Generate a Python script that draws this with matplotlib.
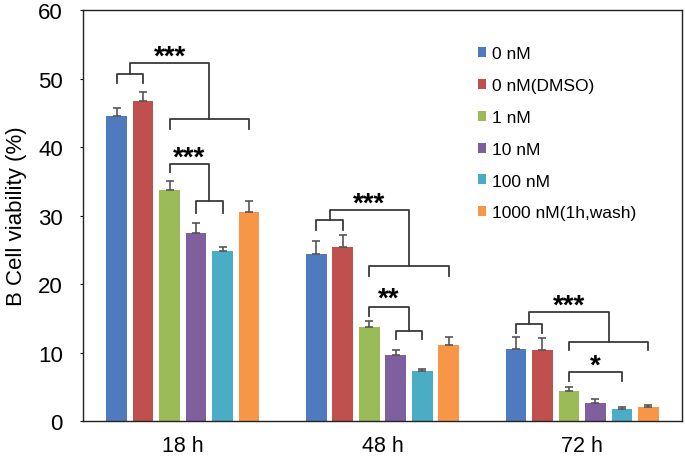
import matplotlib.pyplot as plt
import numpy as np

plt.rcParams['font.family'] = ['Liberation Sans', 'DejaVu Sans']

# data
times = ['18 h', '48 h', '72 h']
doses = ['0 nM', '0 nM(DMSO)', '1 nM', '10 nM', '100 nM', '1000 nM(1h,wash)']
means = {
    '0 nM':             [44.5, 24.4, 10.5],
    '0 nM(DMSO)':       [46.7, 25.4, 10.3],
    '1 nM':             [33.7, 13.7, 4.4],
    '10 nM':            [27.5, 9.6, 2.6],
    '100 nM':           [24.8, 7.3, 1.75],
    '1000 nM(1h,wash)': [30.5, 11.05, 2.1],
}
errs = {
    '0 nM':             [1.2, 1.9, 1.8],
    '0 nM(DMSO)':       [1.3, 1.8, 1.8],
    '1 nM':             [1.4, 0.9, 0.5],
    '10 nM':            [1.4, 0.8, 0.6],
    '100 nM':           [0.6, 0.3, 0.35],
    '1000 nM(1h,wash)': [1.6, 1.25, 0.3],
}
colors = ['#4F7BBE', '#C0504D', '#9BBB59', '#7F5F9E', '#4BACC6', '#F79646']

fig = plt.figure(figsize=(6.85, 4.6), dpi=100)
ax = fig.add_axes([0.1212, 0.0826, 0.8744, 0.8934])

x = np.arange(len(times))
pitch = 0.1327
width = 0.104
for i, d in enumerate(doses):
    pos = x + (i - 2.5) * pitch
    ax.bar(pos, means[d], width, color=colors[i], label=d, zorder=2)
    ax.errorbar(pos, means[d], yerr=[np.zeros(3), errs[d]], fmt='none',
                ecolor='#555555', elinewidth=1.2, capsize=3.2, capthick=1.2, zorder=3)

def cx(g, i):
    return g + (i - 2.5) * pitch

lc = '#3a3a3a'
lw = 1.3
star_fs = 20

def nested(g, y_small, y_leg_s, y_top, y_big, y_leg_b, label, y_txt):
    # small bracket over 0 nM / DMSO
    a, b = cx(g, 0), cx(g, 1)
    ax.plot([a, a, b, b], [y_leg_s, y_small, y_small, y_leg_s], color=lc, lw=lw)
    m1 = (a + b) / 2
    # bracket over the treated bars
    c, d = cx(g, 2), cx(g, 5)
    ax.plot([c, c, d, d], [y_leg_b, y_big, y_big, y_leg_b], color=lc, lw=lw)
    m2 = (c + d) / 2
    ax.plot([m1, m1, m2, m2], [y_small, y_top, y_top, y_big], color=lc, lw=lw)
    ax.text((m1 + m2) / 2, y_txt, label, ha='center', va='center', fontsize=star_fs,
            fontweight='bold')

def single_vs_pair(g, y_leg_a, y_top, y_pair, y_leg_p, label, y_txt):
    a = cx(g, 2)
    b, c = cx(g, 3), cx(g, 4)
    ax.plot([b, b, c, c], [y_leg_p, y_pair, y_pair, y_leg_p], color=lc, lw=lw)
    m = (b + c) / 2
    ax.plot([a, a, m, m], [y_leg_a, y_top, y_top, y_pair], color=lc, lw=lw)
    ax.text((a + m) / 2, y_txt, label, ha='center', va='center', fontsize=star_fs,
            fontweight='bold')

nested(0, 50.7, 49.4, 52.2, 44.1, 42.7, '***', 53.2)
single_vs_pair(0, 36.3, 37.5, 32.1, 30.4, '***', 38.5)
nested(1, 29.3, 27.9, 30.8, 22.6, 21.2, '***', 31.8)
single_vs_pair(1, 15.4, 16.7, 13.2, 11.9, '**', 17.8)
nested(2, 14.2, 12.9, 15.9, 11.6, 10.3, '***', 16.9)
# simple bracket 1 nM vs 100 nM
a, b = cx(2, 2), cx(2, 4)
ax.plot([a, a, b, b], [5.8, 7.1, 7.1, 5.8], color=lc, lw=lw)
ax.text((a + b) / 2, 8.1, '*', ha='center', va='center', fontsize=star_fs,
        fontweight='bold')

ax.set_xlim(-0.5, 2.5)
ax.set_ylim(0, 60)
ax.set_yticks(range(0, 61, 10))
ax.set_xticks(x)
ax.set_xticklabels(times)
ax.tick_params(axis='x', length=0, pad=10, labelsize=15.5)
ax.tick_params(axis='y', direction='out', length=2.5, pad=12, labelsize=16)
ax.set_ylabel('B Cell viability (%)', fontsize=16, labelpad=8)
for s in ax.spines.values():
    s.set_color('#222222')
    s.set_linewidth(1.0)

ax.legend(loc='upper left', bbox_to_anchor=(0.659, 0.912), frameon=False,
          fontsize=12.5, handlelength=0.5, handleheight=0.5, handletextpad=0.3,
          labelspacing=0.97, borderpad=0, borderaxespad=0)

fig.savefig('out.png', dpi=100)
